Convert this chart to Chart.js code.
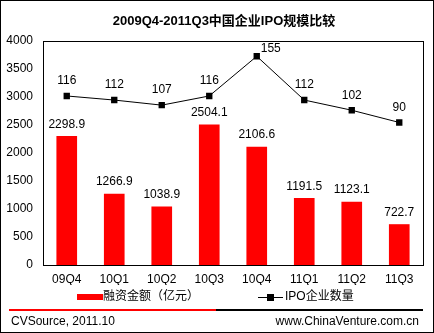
<!DOCTYPE html>
<html><head><meta charset="utf-8">
<script src="https://cdn.jsdelivr.net/npm/chart.js@4"></script>
<style>html,body{margin:0;padding:0;background:#fff}#wrap{width:434px;height:333px}</style>
</head><body><div id="wrap"><canvas id="c" width="434" height="333"></canvas></div>
<script>
const categories = ['09Q4','10Q1','10Q2','10Q3','10Q4','11Q1','11Q2','11Q3'];
const financing = [2298.9, 1266.9, 1038.9, 2504.1, 2106.6, 1191.5, 1123.1, 722.7];
const ipoCount = [116, 112, 107, 116, 155, 112, 102, 90];
const titleText = '2009Q4-2011Q3中国企业IPO规模比较';
const barLegend = '融资金额（亿元）';
const lineLegend = 'IPO企业数量';
const sourceText = 'CVSource, 2011.10';
const siteText = 'www.ChinaVenture.com.cn';

const FONT = '"Liberation Sans", Arial, "Noto Sans CJK SC", sans-serif';

const decor = {
  id: 'decor',
  afterDraw(chart) {
    const ctx = chart.ctx;
    const a = chart.chartArea;
    ctx.save();
    ctx.strokeStyle = '#000'; ctx.lineWidth = 1;
    ctx.strokeRect(Math.round(a.left) + 0.5, Math.round(a.top) + 0.5, Math.round(a.right - a.left), Math.round(a.bottom - a.top));
    ctx.strokeRect(0.5, 0.5, 433, 332);
    ctx.fillStyle = '#000';
    ctx.font = 'bold 13px ' + FONT;
    ctx.textAlign = 'center'; ctx.textBaseline = 'middle';
    ctx.fillText(titleText, 224, 21);
    ctx.font = '12px ' + FONT;
    const bm = chart.getDatasetMeta(0);
    bm.data.forEach((el, i) => {
      ctx.fillText(financing[i].toFixed(1), el.x, el.y - 12);
    });
    const lm = chart.getDatasetMeta(1);
    const maxIdx = ipoCount.indexOf(Math.max(...ipoCount));
    lm.data.forEach((el, i) => {
      if (i === maxIdx) ctx.fillText(String(ipoCount[i]), el.x + 14, el.y - 8);
      else ctx.fillText(String(ipoCount[i]), el.x, el.y - 15);
    });
    ctx.fillStyle = '#ff0000';
    ctx.fillRect(77, 294, 26, 6);
    ctx.fillStyle = '#000';
    ctx.textAlign = 'left';
    ctx.fillText(barLegend, 103, 297);
    ctx.beginPath(); ctx.moveTo(258, 297.5); ctx.lineTo(283, 297.5); ctx.stroke();
    ctx.fillRect(267, 294, 7, 7);
    ctx.fillText(lineLegend, 285, 297);
    ctx.fillStyle = '#ff0000'; ctx.fillRect(9, 309, 207, 2);
    ctx.fillStyle = '#000'; ctx.fillRect(216, 309, 207, 2);
    ctx.fillText(sourceText, 11, 322);
    ctx.textAlign = 'right';
    ctx.fillText(siteText, 419, 322);
    ctx.restore();
  }
};

new Chart(document.getElementById('c'), {
  data: {
    labels: categories,
    datasets: [
      { type: 'bar', label: barLegend, data: financing, backgroundColor: '#ff0000', barThickness: 20, yAxisID: 'y', order: 2 },
      { type: 'line', label: lineLegend, data: ipoCount, borderColor: '#000', borderWidth: 1, pointStyle: 'rect', pointRadius: 4.5,
        pointBackgroundColor: '#000', pointBorderColor: '#000', pointBorderWidth: 0, yAxisID: 'y1', order: 1, tension: 0 }
    ]
  },
  options: {
    responsive: false, animation: false, devicePixelRatio: 1,
    layout: { padding: { left: 0, top: 41, right: 11, bottom: 48 } },
    plugins: { legend: { display: false }, title: { display: false }, tooltip: { enabled: false } },
    scales: {
      x: {
        grid: { display: false, drawTicks: false },
        border: { display: true, color: '#000' },
        ticks: { color: '#000', font: { family: FONT, size: 12 }, padding: 7, maxRotation: 0 },
        afterFit(s) { s.height = 20; }
      },
      y: {
        min: 0, max: 4000,
        grid: { display: false, drawTicks: false },
        border: { display: true, color: '#000' },
        ticks: { stepSize: 500, color: '#000', font: { family: FONT, size: 12 }, padding: 10, callback: (v) => String(v) },
        afterFit(s) { s.width = 43; }
      },
      y1: { display: false, min: -50, max: 170, position: 'right' }
    }
  },
  plugins: [decor]
});
</script></body></html>
